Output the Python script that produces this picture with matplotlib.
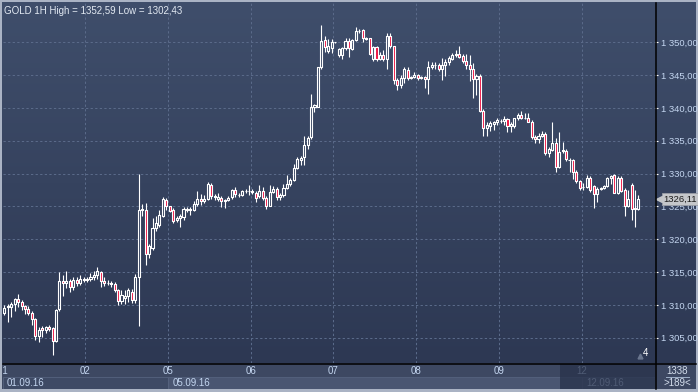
import numpy as np
import matplotlib
matplotlib.use("Agg")
import matplotlib.pyplot as plt
import matplotlib.transforms as mtransforms
from matplotlib.collections import LineCollection, PolyCollection
from matplotlib.colors import LinearSegmentedColormap
from matplotlib.lines import Line2D
from matplotlib.patches import Rectangle
from matplotlib.ticker import FuncFormatter

plt.rcParams['font.family'] = ['Liberation Sans', 'DejaVu Sans']

# ---------------- data (hourly candles) ----------------
opens = [
    1308.7, 1309.6, 1309.6, 1310.2, 1310.9, 1310.4, 1309.8, 1309.4, 1308.8, 1307.8, 1305.2, 1306.4,
    1306.1, 1306.6, 1306.4, 1304.5, 1309.3, 1313.6, 1313.3, 1313.7, 1312.7, 1313.8, 1313.4, 1313.9,
    1313.8, 1313.9, 1314.3, 1314.5, 1315.0, 1313.7, 1313.4, 1313.3, 1313.2, 1312.2, 1310.6, 1311.0,
    1311.4, 1312.0, 1310.7, 1314.3, 1324.4, 1324.5, 1317.7, 1318.7, 1321.7, 1322.2, 1323.5, 1326.0,
    1325.0, 1324.4, 1322.9, 1323.2, 1323.4, 1324.5, 1324.6, 1324.5, 1325.3, 1326.2, 1325.8, 1326.2,
    1328.3, 1326.6, 1326.2, 1326.3, 1325.8, 1326.0, 1326.4, 1327.5, 1326.8, 1326.8, 1327.3, 1327.3,
    1327.2, 1327.0, 1326.6, 1327.3, 1326.3, 1325.1, 1327.2, 1327.6, 1326.5, 1326.8, 1327.8, 1328.4,
    1329.0, 1330.9, 1332.0, 1332.6, 1334.3, 1335.5, 1340.2, 1340.2, 1346.3, 1350.4, 1348.7, 1349.2,
    1350.0, 1348.0, 1348.0, 1349.1, 1350.2, 1349.0, 1350.4, 1351.8, 1351.9, 1350.6, 1350.6, 1347.4,
    1349.3, 1347.4, 1348.1, 1347.4, 1351.0, 1349.4, 1344.2, 1343.5, 1344.6, 1345.8, 1344.6, 1344.7,
    1345.0, 1344.6, 1344.7, 1344.4, 1346.3, 1346.6, 1346.6, 1345.9, 1346.6, 1347.0, 1347.5, 1348.0,
    1348.2, 1347.9, 1347.2, 1346.6, 1346.0, 1344.4, 1344.9, 1339.6, 1337.0, 1337.3, 1337.5, 1337.8,
    1338.0, 1338.0, 1338.3, 1337.2, 1337.3, 1338.4, 1339.0, 1338.5, 1338.5, 1337.9, 1335.6, 1335.3,
    1335.7, 1336.1, 1333.1, 1333.6, 1334.7, 1331.0, 1333.6, 1333.5, 1332.1, 1332.0, 1330.3, 1328.8,
    1328.0, 1328.0, 1329.4, 1328.1, 1326.9, 1327.7, 1327.8, 1328.1, 1329.3, 1329.8, 1327.1, 1329.3,
    1327.5, 1325.1, 1328.2, 1324.6, 1324.6,
]
highs = [
    1310.0, 1310.2, 1310.5, 1311.1, 1311.7, 1310.8, 1310.0, 1309.8, 1309.0, 1308.0, 1306.7, 1306.8,
    1306.8, 1307.0, 1306.6, 1309.3, 1315.0, 1314.5, 1315.1, 1314.0, 1314.3, 1314.2, 1314.5, 1314.2,
    1314.3, 1314.8, 1315.1, 1315.7, 1315.1, 1314.2, 1313.8, 1313.6, 1313.5, 1312.4, 1312.3, 1312.3,
    1312.6, 1312.4, 1314.7, 1330.0, 1325.4, 1325.5, 1319.3, 1323.2, 1323.5, 1324.4, 1326.5, 1326.3,
    1325.1, 1324.8, 1323.6, 1323.9, 1324.9, 1324.9, 1324.9, 1325.8, 1327.4, 1326.9, 1326.7, 1328.7,
    1328.6, 1326.9, 1327.0, 1326.6, 1326.1, 1326.6, 1327.7, 1327.9, 1327.1, 1327.5, 1327.6, 1328.3,
    1327.6, 1327.3, 1328.2, 1327.9, 1326.6, 1328.3, 1328.1, 1328.0, 1327.1, 1328.4, 1329.8, 1329.3,
    1331.4, 1332.5, 1332.7, 1335.8, 1335.7, 1342.1, 1340.6, 1346.3, 1352.59, 1351.0, 1350.5, 1350.5,
    1350.1, 1349.2, 1349.3, 1350.6, 1350.6, 1350.5, 1352.3, 1352.1, 1352.1, 1350.8, 1350.6, 1349.5,
    1349.4, 1348.6, 1348.8, 1351.4, 1351.4, 1349.5, 1344.5, 1345.0, 1346.2, 1346.2, 1344.9, 1345.5,
    1345.2, 1344.9, 1344.9, 1347.1, 1347.0, 1347.0, 1346.9, 1347.6, 1347.4, 1347.9, 1348.3, 1348.8,
    1349.4, 1348.2, 1348.2, 1348.1, 1346.8, 1345.2, 1345.2, 1339.8, 1337.8, 1338.0, 1338.0, 1338.4,
    1338.3, 1338.7, 1338.5, 1337.9, 1338.5, 1339.3, 1339.5, 1339.2, 1339.2, 1338.1, 1335.9, 1336.2,
    1336.5, 1336.3, 1334.0, 1337.9, 1335.4, 1336.4, 1334.8, 1333.8, 1332.3, 1332.2, 1330.5, 1329.0,
    1328.5, 1329.8, 1329.6, 1328.3, 1328.0, 1327.9, 1328.3, 1329.5, 1329.8, 1330.0, 1329.6, 1329.6,
    1327.8, 1327.5, 1328.6, 1327.5, 1326.7,
]
lows = [
    1308.4, 1307.4, 1308.2, 1309.0, 1309.7, 1309.2, 1308.6, 1308.4, 1306.9, 1304.6, 1304.3, 1305.1,
    1305.7, 1306.0, 1302.43, 1304.3, 1309.1, 1311.3, 1312.5, 1312.0, 1312.2, 1312.8, 1313.0, 1313.5,
    1313.5, 1313.6, 1313.8, 1314.0, 1312.7, 1312.9, 1313.0, 1312.7, 1312.0, 1310.0, 1310.1, 1310.2,
    1310.5, 1310.3, 1310.3, 1306.8, 1323.6, 1316.0, 1317.2, 1318.3, 1321.3, 1321.8, 1323.4, 1324.5,
    1324.1, 1322.4, 1322.6, 1321.8, 1323.0, 1324.1, 1323.7, 1324.3, 1325.1, 1325.2, 1325.5, 1325.9,
    1326.2, 1326.0, 1325.8, 1324.9, 1324.8, 1325.8, 1326.2, 1326.4, 1326.5, 1326.6, 1327.0, 1326.8,
    1326.9, 1325.7, 1326.3, 1325.9, 1324.6, 1325.0, 1327.1, 1326.0, 1326.0, 1326.5, 1327.6, 1328.1,
    1328.8, 1330.7, 1331.3, 1331.3, 1333.8, 1335.3, 1339.4, 1340.1, 1346.0, 1348.5, 1348.4, 1348.4,
    1349.9, 1347.7, 1347.4, 1348.9, 1347.8, 1348.9, 1350.2, 1351.4, 1350.1, 1350.3, 1348.0, 1347.2,
    1347.2, 1347.3, 1347.2, 1345.9, 1349.2, 1343.6, 1342.7, 1343.0, 1343.8, 1344.3, 1344.4, 1344.5,
    1344.3, 1344.4, 1343.1, 1342.2, 1346.0, 1346.0, 1345.6, 1344.3, 1344.9, 1346.5, 1347.3, 1347.8,
    1347.6, 1346.9, 1346.0, 1344.1, 1341.5, 1342.0, 1339.4, 1335.8, 1335.8, 1336.5, 1336.6, 1337.4,
    1337.7, 1337.4, 1336.3, 1336.3, 1336.9, 1338.2, 1338.3, 1338.3, 1337.8, 1335.3, 1334.7, 1334.7,
    1335.5, 1332.9, 1332.6, 1333.4, 1330.3, 1330.9, 1333.2, 1331.9, 1330.3, 1329.1, 1328.5, 1327.5,
    1327.5, 1327.8, 1327.2, 1324.8, 1325.6, 1327.5, 1327.7, 1327.9, 1328.4, 1327.0, 1326.9, 1327.2,
    1323.5, 1324.9, 1322.9, 1321.8, 1324.4,
]
closes = [
    1309.5, 1309.8, 1310.2, 1310.9, 1310.4, 1309.8, 1309.4, 1308.8, 1307.8, 1305.2, 1306.1, 1306.1,
    1306.6, 1306.3, 1304.5, 1309.2, 1313.6, 1313.4, 1313.7, 1312.7, 1313.8, 1313.4, 1313.9, 1313.8,
    1313.9, 1314.3, 1314.5, 1315.1, 1313.7, 1313.4, 1313.4, 1313.2, 1312.2, 1310.6, 1311.5, 1311.4,
    1312.2, 1310.7, 1314.3, 1324.4, 1324.6, 1317.7, 1318.9, 1321.7, 1322.4, 1323.7, 1326.1, 1325.0,
    1324.3, 1322.8, 1323.3, 1323.5, 1324.6, 1324.6, 1324.5, 1325.4, 1326.2, 1325.8, 1326.2, 1328.4,
    1326.6, 1326.4, 1326.5, 1325.8, 1326.0, 1326.3, 1327.5, 1326.9, 1326.8, 1327.3, 1327.3, 1327.4,
    1327.3, 1326.3, 1327.3, 1326.3, 1325.1, 1327.2, 1327.6, 1326.5, 1326.8, 1327.8, 1328.4, 1329.0,
    1330.9, 1332.2, 1332.4, 1334.3, 1335.4, 1340.2, 1340.4, 1346.3, 1350.2, 1349.3, 1349.4, 1350.0,
    1350.0, 1349.0, 1349.1, 1350.2, 1349.1, 1350.4, 1351.7, 1351.8, 1350.6, 1350.5, 1348.2, 1349.3,
    1347.4, 1348.1, 1347.4, 1351.0, 1349.4, 1344.2, 1343.5, 1344.6, 1345.9, 1344.5, 1344.7, 1345.0,
    1344.5, 1344.7, 1344.4, 1346.3, 1346.6, 1346.6, 1345.9, 1346.6, 1347.0, 1347.6, 1348.0, 1348.2,
    1347.8, 1347.2, 1346.6, 1345.9, 1344.4, 1344.9, 1339.6, 1337.0, 1337.4, 1337.7, 1337.8, 1338.2,
    1338.0, 1338.3, 1337.2, 1337.6, 1338.4, 1339.0, 1338.5, 1338.5, 1337.9, 1335.6, 1335.2, 1335.7,
    1336.1, 1333.1, 1333.8, 1334.7, 1331.0, 1333.3, 1333.4, 1332.2, 1332.0, 1330.3, 1328.8, 1327.8,
    1328.0, 1329.4, 1327.5, 1326.9, 1327.6, 1327.8, 1328.1, 1329.3, 1329.6, 1327.1, 1329.3, 1327.4,
    1325.1, 1326.2, 1324.6, 1324.7, 1326.11,
]
day_labels = ['01', '02', '05', '06', '07', '08', '09', '12']
day_start_idx = [0, 24, 48, 72, 96, 120, 144, 168]
week_labels = ['01.09.16', '05.09.16', '12.09.16']
week_start_idx = [0, 48, 168]
y_ticks = [1305, 1310, 1315, 1320, 1325, 1330, 1335, 1340, 1345, 1350]
symbol = 'GOLD 1H'
corner_top = '1338'
corner_bottom = '>189<'
corner_mark = '4'

# ---------------- figure ----------------
W, H = 698, 392
fig = plt.figure(figsize=(W / 100, H / 100), dpi=100, facecolor='#aab3c4')

def fr(x0, y0, x1, y1):
    return [x0 / W, 1 - y1 / H, (x1 - x0) / W, (y1 - y0) / H]

# gradient background (plot + right price panel)
ax_bg = fig.add_axes(fr(2, 2, 696, 363))
cmap = LinearSegmentedColormap.from_list('bg', ['#2d3853', '#3f4e6b'])
ax_bg.imshow(np.linspace(0, 1, 256).reshape(-1, 1), cmap=cmap, aspect='auto',
             origin='lower', extent=[0, 1, 0, 1])
ax_bg.set_axis_off()

# bottom strip background
ax_sb = fig.add_axes(fr(2, 363, 696, 389))
ax_sb.set_facecolor('#3d4862')
ax_sb.set_axis_off()
ax_sb.add_patch(Rectangle((0, 0), 1, 1, transform=ax_sb.transAxes, color='#3d4862'))

n = len(closes)
idx = np.arange(n)
ax = fig.add_axes(fr(3, 3, 655, 363))
ax.set_facecolor('none')
ax.set_xlim(-0.38, 188.8)
ax.set_ylim(1301.14, 1355.99)
for s in ax.spines.values():
    s.set_visible(False)

grid_kw = dict(color='#5a6a89', lw=0.75, ls=(0, (2.2, 2.2)), zorder=1)
for v in y_ticks:
    ax.axhline(v, **grid_kw)
for d in day_start_idx[1:]:
    ax.axvline(d - 0.5, **grid_kw)

# candles
o = np.array(opens); h = np.array(highs); l = np.array(lows); c = np.array(closes)
top = np.maximum(o, c); bot = np.minimum(o, c)
segs = []
for i in range(n):
    if h[i] > top[i]:
        segs.append([(i, top[i]), (i, h[i])])
    if l[i] < bot[i]:
        segs.append([(i, l[i]), (i, bot[i])])
ax.add_collection(LineCollection(segs, colors='white', linewidths=0.8, zorder=3))
bw = 0.3
verts = [[(i - bw, bot[i]), (i + bw, bot[i]), (i + bw, top[i]), (i - bw, top[i])] for i in range(n)]
fcs = ['#ee1040' if c[i] < o[i] else 'none' for i in range(n)]
ax.add_collection(PolyCollection(verts, facecolors=fcs, edgecolors='white',
                                 linewidths=0.8, zorder=4))

# right price axis
def price_fmt(v, pos=None):
    return f"{v:,.2f}".replace(',', ' ').replace('.', ',')

ax.set_yticks(y_ticks)
ax.yaxis.set_major_formatter(FuncFormatter(price_fmt))
ax.tick_params(axis='y', left=False, labelleft=False, right=True, labelright=True,
               length=2.5, width=0.8, color='white', labelcolor='#c4d6f0',
               labelsize=6.8, pad=1.5)
ax.tick_params(axis='x', bottom=False, labelbottom=False)

# title
hi_txt = f"{max(highs):.2f}".replace('.', ',')
lo_txt = f"{min(lows):.2f}".replace('.', ',')
ax.text(0.002, 0.993, f"{symbol} High = {hi_txt} Low = {lo_txt}", transform=ax.transAxes,
        ha='left', va='top', color='#e2e9f2', fontsize=7)

# corner mark "4"
ax.text(0.99, 0.015, corner_mark, transform=ax.transAxes, ha='right', va='bottom',
        color='white', fontsize=7)
ax.plot([0.977], [0.02], marker='^', ms=3.5, color='#6a768e', transform=ax.transAxes,
        clip_on=False, zorder=5)

# last price tag
last = closes[-1]
blend = mtransforms.blended_transform_factory(ax.transAxes, ax.transData)
ax.annotate(f"{last:.2f}".replace('.', ','), xy=(1.0, last), xycoords=blend,
            xytext=(8.5, 0), textcoords='offset pixels', ha='left', va='center',
            fontsize=6.8, color='#1c1c1c', zorder=10, annotation_clip=False,
            bbox=dict(boxstyle='square,pad=0.18', fc='#c5c7ca', ec='#9a9ea6', lw=0.6))
ax.plot([1.0], [last], marker='<', ms=4, color='#c5c7ca', clip_on=False, zorder=11,
        transform=mtransforms.offset_copy(blend, fig=fig, x=4, y=0, units='dots'))

# bottom date strip (shares x with main axes)
ax_d = fig.add_axes(fr(3, 364, 655, 389), sharex=ax)
ax_d.set_ylim(0, 1)
ax_d.set_axis_off()
xmax = ax.get_xlim()[1]
week_cols = ['#3e4a65', '#4a5672', '#4a5672']
bounds = [w - 0.5 for w in week_start_idx] + [xmax]
for k in range(len(week_labels)):
    ax_d.add_patch(Rectangle((bounds[k], 0), bounds[k + 1] - bounds[k], 0.5,
                             fc=week_cols[k], ec='#56637f', lw=0.6, zorder=1))
    ax_d.annotate(week_labels[k], xy=(bounds[k], 0.25), xycoords='data',
                  xytext=(4.5, 0), textcoords='offset pixels', ha='left', va='center',
                  color='#c4d6f0', fontsize=7, zorder=3, annotation_clip=True)
for d, lab in zip(day_start_idx, day_labels):
    ax_d.text(d - 0.5, 0.74, lab, ha='center', va='center', color='#c4d6f0',
              fontsize=7, zorder=3, clip_on=True)
# dark overlay on the latest part of the strip
ax_d.add_patch(Rectangle((0.854, 0), 0.146, 1, transform=ax_d.transAxes,
                         fc='#28324b', alpha=0.75, ec='none', zorder=5))

# corner cell
fig.text(677 / W, 1 - 371 / H, corner_top, ha='center', va='center', color='#d4deec', fontsize=7)
fig.text(677 / W, 1 - 383.5 / H, corner_bottom, ha='center', va='center', color='#d4deec', fontsize=7)
fig.add_artist(Line2D([666 / W, 689 / W], [1 - 377 / H, 1 - 377 / H], color='#9fb0c8', lw=0.7))

# black separators
fig.add_artist(Line2D([655.5 / W, 655.5 / W], [1 - 389 / H, 1 - 3 / H], color='black', lw=1.1))
fig.add_artist(Line2D([3 / W, 696 / W], [1 - 363.5 / H, 1 - 363.5 / H], color='black', lw=1.1))

fig.savefig('out.png', dpi=100, facecolor=fig.get_facecolor())
